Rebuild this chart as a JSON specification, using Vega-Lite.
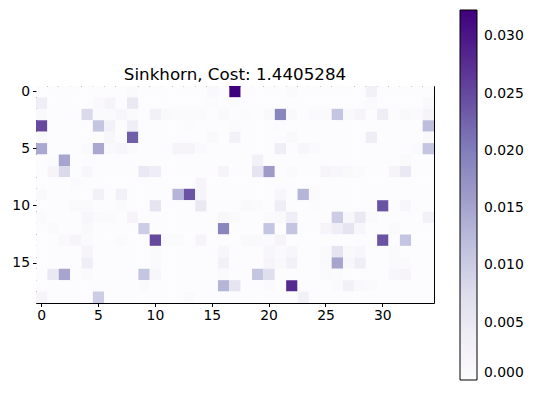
{
"$schema": "https://vega.github.io/schema/vega-lite/v6.json",
"width": 398, "height": 217,
"autosize": "none",
"padding": {"left": 36, "top": 86, "right": 102, "bottom": 95},
"title": {"text": "Sinkhorn, Cost: 1.4405284", "fontSize": 16.7, "fontWeight": "normal", "font": "DejaVu Sans", "color": "black", "offset": 7, "dy": 81},
"datasets": {"m": [
{"r":0,"c":0,"v":0},{"r":0,"c":1,"v":0},{"r":0,"c":2,"v":0},{"r":0,"c":3,"v":0},{"r":0,"c":4,"v":0},{"r":0,"c":5,"v":0},{"r":0,"c":6,"v":0},{"r":0,"c":7,"v":0},{"r":0,"c":8,"v":0.0005},{"r":0,"c":9,"v":0},{"r":0,"c":10,"v":0},{"r":0,"c":11,"v":0},{"r":0,"c":12,"v":0},{"r":0,"c":13,"v":0},{"r":0,"c":14,"v":0},{"r":0,"c":15,"v":0.001},{"r":0,"c":16,"v":0},{"r":0,"c":17,"v":0.0323},{"r":0,"c":18,"v":0},{"r":0,"c":19,"v":0},{"r":0,"c":20,"v":0},{"r":0,"c":21,"v":0},{"r":0,"c":22,"v":0.0005},{"r":0,"c":23,"v":0},{"r":0,"c":24,"v":0},{"r":0,"c":25,"v":0},{"r":0,"c":26,"v":0},{"r":0,"c":27,"v":0},{"r":0,"c":28,"v":0},{"r":0,"c":29,"v":0.003},{"r":0,"c":30,"v":0},{"r":0,"c":31,"v":0},{"r":0,"c":32,"v":0},{"r":0,"c":33,"v":0},{"r":0,"c":34,"v":0},
{"r":1,"c":0,"v":0.004},{"r":1,"c":1,"v":0},{"r":1,"c":2,"v":0},{"r":1,"c":3,"v":0},{"r":1,"c":4,"v":0},{"r":1,"c":5,"v":0.001},{"r":1,"c":6,"v":0.002},{"r":1,"c":7,"v":0},{"r":1,"c":8,"v":0.005},{"r":1,"c":9,"v":0},{"r":1,"c":10,"v":0},{"r":1,"c":11,"v":0},{"r":1,"c":12,"v":0},{"r":1,"c":13,"v":0},{"r":1,"c":14,"v":0},{"r":1,"c":15,"v":0.0004},{"r":1,"c":16,"v":0},{"r":1,"c":17,"v":0.0004},{"r":1,"c":18,"v":0},{"r":1,"c":19,"v":0},{"r":1,"c":20,"v":0},{"r":1,"c":21,"v":0},{"r":1,"c":22,"v":0},{"r":1,"c":23,"v":0},{"r":1,"c":24,"v":0},{"r":1,"c":25,"v":0},{"r":1,"c":26,"v":0},{"r":1,"c":27,"v":0},{"r":1,"c":28,"v":0},{"r":1,"c":29,"v":0.0005},{"r":1,"c":30,"v":0},{"r":1,"c":31,"v":0},{"r":1,"c":32,"v":0},{"r":1,"c":33,"v":0},{"r":1,"c":34,"v":0.0008},
{"r":2,"c":0,"v":0.0008},{"r":2,"c":1,"v":0},{"r":2,"c":2,"v":0},{"r":2,"c":3,"v":0},{"r":2,"c":4,"v":0.008},{"r":2,"c":5,"v":0.0005},{"r":2,"c":6,"v":0.0006},{"r":2,"c":7,"v":0.0015},{"r":2,"c":8,"v":0.0006},{"r":2,"c":9,"v":0},{"r":2,"c":10,"v":0.003},{"r":2,"c":11,"v":0.001},{"r":2,"c":12,"v":0.0007},{"r":2,"c":13,"v":0.0005},{"r":2,"c":14,"v":0.0007},{"r":2,"c":15,"v":0},{"r":2,"c":16,"v":0.0008},{"r":2,"c":17,"v":0},{"r":2,"c":18,"v":0.0004},{"r":2,"c":19,"v":0},{"r":2,"c":20,"v":0.001},{"r":2,"c":21,"v":0.019},{"r":2,"c":22,"v":0.001},{"r":2,"c":23,"v":0},{"r":2,"c":24,"v":0.0005},{"r":2,"c":25,"v":0.0005},{"r":2,"c":26,"v":0.011},{"r":2,"c":27,"v":0.0008},{"r":2,"c":28,"v":0.002},{"r":2,"c":29,"v":0},{"r":2,"c":30,"v":0.004},{"r":2,"c":31,"v":0},{"r":2,"c":32,"v":0.001},{"r":2,"c":33,"v":0.0006},{"r":2,"c":34,"v":0.002},
{"r":3,"c":0,"v":0.025},{"r":3,"c":1,"v":0},{"r":3,"c":2,"v":0},{"r":3,"c":3,"v":0},{"r":3,"c":4,"v":0},{"r":3,"c":5,"v":0.011},{"r":3,"c":6,"v":0.003},{"r":3,"c":7,"v":0},{"r":3,"c":8,"v":0.004},{"r":3,"c":9,"v":0},{"r":3,"c":10,"v":0},{"r":3,"c":11,"v":0},{"r":3,"c":12,"v":0},{"r":3,"c":13,"v":0.0004},{"r":3,"c":14,"v":0},{"r":3,"c":15,"v":0},{"r":3,"c":16,"v":0},{"r":3,"c":17,"v":0.0004},{"r":3,"c":18,"v":0},{"r":3,"c":19,"v":0},{"r":3,"c":20,"v":0},{"r":3,"c":21,"v":0.0004},{"r":3,"c":22,"v":0},{"r":3,"c":23,"v":0},{"r":3,"c":24,"v":0},{"r":3,"c":25,"v":0},{"r":3,"c":26,"v":0},{"r":3,"c":27,"v":0},{"r":3,"c":28,"v":0},{"r":3,"c":29,"v":0},{"r":3,"c":30,"v":0},{"r":3,"c":31,"v":0},{"r":3,"c":32,"v":0},{"r":3,"c":33,"v":0},{"r":3,"c":34,"v":0.012},
{"r":4,"c":0,"v":0.0008},{"r":4,"c":1,"v":0},{"r":4,"c":2,"v":0},{"r":4,"c":3,"v":0},{"r":4,"c":4,"v":0},{"r":4,"c":5,"v":0},{"r":4,"c":6,"v":0.0015},{"r":4,"c":7,"v":0},{"r":4,"c":8,"v":0.023},{"r":4,"c":9,"v":0},{"r":4,"c":10,"v":0},{"r":4,"c":11,"v":0},{"r":4,"c":12,"v":0},{"r":4,"c":13,"v":0},{"r":4,"c":14,"v":0},{"r":4,"c":15,"v":0.001},{"r":4,"c":16,"v":0},{"r":4,"c":17,"v":0.003},{"r":4,"c":18,"v":0},{"r":4,"c":19,"v":0},{"r":4,"c":20,"v":0},{"r":4,"c":21,"v":0},{"r":4,"c":22,"v":0.001},{"r":4,"c":23,"v":0},{"r":4,"c":24,"v":0},{"r":4,"c":25,"v":0},{"r":4,"c":26,"v":0},{"r":4,"c":27,"v":0},{"r":4,"c":28,"v":0},{"r":4,"c":29,"v":0.004},{"r":4,"c":30,"v":0},{"r":4,"c":31,"v":0},{"r":4,"c":32,"v":0},{"r":4,"c":33,"v":0},{"r":4,"c":34,"v":0.0008},
{"r":5,"c":0,"v":0.0145},{"r":5,"c":1,"v":0},{"r":5,"c":2,"v":0},{"r":5,"c":3,"v":0},{"r":5,"c":4,"v":0.0005},{"r":5,"c":5,"v":0.0145},{"r":5,"c":6,"v":0.001},{"r":5,"c":7,"v":0.0015},{"r":5,"c":8,"v":0.0005},{"r":5,"c":9,"v":0},{"r":5,"c":10,"v":0},{"r":5,"c":11,"v":0},{"r":5,"c":12,"v":0.002},{"r":5,"c":13,"v":0.002},{"r":5,"c":14,"v":0.0005},{"r":5,"c":15,"v":0},{"r":5,"c":16,"v":0},{"r":5,"c":17,"v":0},{"r":5,"c":18,"v":0},{"r":5,"c":19,"v":0},{"r":5,"c":20,"v":0},{"r":5,"c":21,"v":0.004},{"r":5,"c":22,"v":0},{"r":5,"c":23,"v":0.0015},{"r":5,"c":24,"v":0.0005},{"r":5,"c":25,"v":0},{"r":5,"c":26,"v":0},{"r":5,"c":27,"v":0},{"r":5,"c":28,"v":0},{"r":5,"c":29,"v":0},{"r":5,"c":30,"v":0},{"r":5,"c":31,"v":0},{"r":5,"c":32,"v":0},{"r":5,"c":33,"v":0.0006},{"r":5,"c":34,"v":0.011},
{"r":6,"c":0,"v":0},{"r":6,"c":1,"v":0.0004},{"r":6,"c":2,"v":0.015},{"r":6,"c":3,"v":0},{"r":6,"c":4,"v":0},{"r":6,"c":5,"v":0},{"r":6,"c":6,"v":0},{"r":6,"c":7,"v":0},{"r":6,"c":8,"v":0},{"r":6,"c":9,"v":0},{"r":6,"c":10,"v":0},{"r":6,"c":11,"v":0},{"r":6,"c":12,"v":0},{"r":6,"c":13,"v":0},{"r":6,"c":14,"v":0},{"r":6,"c":15,"v":0},{"r":6,"c":16,"v":0},{"r":6,"c":17,"v":0},{"r":6,"c":18,"v":0},{"r":6,"c":19,"v":0.003},{"r":6,"c":20,"v":0},{"r":6,"c":21,"v":0},{"r":6,"c":22,"v":0},{"r":6,"c":23,"v":0},{"r":6,"c":24,"v":0},{"r":6,"c":25,"v":0},{"r":6,"c":26,"v":0},{"r":6,"c":27,"v":0},{"r":6,"c":28,"v":0},{"r":6,"c":29,"v":0},{"r":6,"c":30,"v":0},{"r":6,"c":31,"v":0},{"r":6,"c":32,"v":0.0005},{"r":6,"c":33,"v":0},{"r":6,"c":34,"v":0},
{"r":7,"c":0,"v":0},{"r":7,"c":1,"v":0.002},{"r":7,"c":2,"v":0.008},{"r":7,"c":3,"v":0},{"r":7,"c":4,"v":0.0015},{"r":7,"c":5,"v":0},{"r":7,"c":6,"v":0},{"r":7,"c":7,"v":0},{"r":7,"c":8,"v":0},{"r":7,"c":9,"v":0.005},{"r":7,"c":10,"v":0.004},{"r":7,"c":11,"v":0},{"r":7,"c":12,"v":0},{"r":7,"c":13,"v":0},{"r":7,"c":14,"v":0},{"r":7,"c":15,"v":0},{"r":7,"c":16,"v":0.002},{"r":7,"c":17,"v":0},{"r":7,"c":18,"v":0},{"r":7,"c":19,"v":0.006},{"r":7,"c":20,"v":0.016},{"r":7,"c":21,"v":0},{"r":7,"c":22,"v":0.0006},{"r":7,"c":23,"v":0},{"r":7,"c":24,"v":0},{"r":7,"c":25,"v":0.002},{"r":7,"c":26,"v":0.0015},{"r":7,"c":27,"v":0.0008},{"r":7,"c":28,"v":0.0005},{"r":7,"c":29,"v":0},{"r":7,"c":30,"v":0},{"r":7,"c":31,"v":0.002},{"r":7,"c":32,"v":0.005},{"r":7,"c":33,"v":0},{"r":7,"c":34,"v":0},
{"r":8,"c":0,"v":0},{"r":8,"c":1,"v":0},{"r":8,"c":2,"v":0},{"r":8,"c":3,"v":0.0005},{"r":8,"c":4,"v":0},{"r":8,"c":5,"v":0},{"r":8,"c":6,"v":0},{"r":8,"c":7,"v":0},{"r":8,"c":8,"v":0},{"r":8,"c":9,"v":0},{"r":8,"c":10,"v":0},{"r":8,"c":11,"v":0},{"r":8,"c":12,"v":0},{"r":8,"c":13,"v":0},{"r":8,"c":14,"v":0.002},{"r":8,"c":15,"v":0},{"r":8,"c":16,"v":0},{"r":8,"c":17,"v":0},{"r":8,"c":18,"v":0},{"r":8,"c":19,"v":0},{"r":8,"c":20,"v":0},{"r":8,"c":21,"v":0},{"r":8,"c":22,"v":0},{"r":8,"c":23,"v":0},{"r":8,"c":24,"v":0},{"r":8,"c":25,"v":0},{"r":8,"c":26,"v":0},{"r":8,"c":27,"v":0},{"r":8,"c":28,"v":0},{"r":8,"c":29,"v":0},{"r":8,"c":30,"v":0},{"r":8,"c":31,"v":0},{"r":8,"c":32,"v":0},{"r":8,"c":33,"v":0},{"r":8,"c":34,"v":0},
{"r":9,"c":0,"v":0.0008},{"r":9,"c":1,"v":0},{"r":9,"c":2,"v":0},{"r":9,"c":3,"v":0},{"r":9,"c":4,"v":0},{"r":9,"c":5,"v":0.003},{"r":9,"c":6,"v":0},{"r":9,"c":7,"v":0.003},{"r":9,"c":8,"v":0},{"r":9,"c":9,"v":0},{"r":9,"c":10,"v":0},{"r":9,"c":11,"v":0},{"r":9,"c":12,"v":0.013},{"r":9,"c":13,"v":0.024},{"r":9,"c":14,"v":0.002},{"r":9,"c":15,"v":0},{"r":9,"c":16,"v":0},{"r":9,"c":17,"v":0},{"r":9,"c":18,"v":0},{"r":9,"c":19,"v":0},{"r":9,"c":20,"v":0},{"r":9,"c":21,"v":0.0015},{"r":9,"c":22,"v":0},{"r":9,"c":23,"v":0.013},{"r":9,"c":24,"v":0.0005},{"r":9,"c":25,"v":0},{"r":9,"c":26,"v":0},{"r":9,"c":27,"v":0},{"r":9,"c":28,"v":0},{"r":9,"c":29,"v":0},{"r":9,"c":30,"v":0},{"r":9,"c":31,"v":0},{"r":9,"c":32,"v":0},{"r":9,"c":33,"v":0},{"r":9,"c":34,"v":0},
{"r":10,"c":0,"v":0},{"r":10,"c":1,"v":0},{"r":10,"c":2,"v":0},{"r":10,"c":3,"v":0.001},{"r":10,"c":4,"v":0.0005},{"r":10,"c":5,"v":0},{"r":10,"c":6,"v":0},{"r":10,"c":7,"v":0.0006},{"r":10,"c":8,"v":0},{"r":10,"c":9,"v":0},{"r":10,"c":10,"v":0.006},{"r":10,"c":11,"v":0},{"r":10,"c":12,"v":0},{"r":10,"c":13,"v":0},{"r":10,"c":14,"v":0.005},{"r":10,"c":15,"v":0},{"r":10,"c":16,"v":0},{"r":10,"c":17,"v":0},{"r":10,"c":18,"v":0.001},{"r":10,"c":19,"v":0.0005},{"r":10,"c":20,"v":0},{"r":10,"c":21,"v":0.004},{"r":10,"c":22,"v":0},{"r":10,"c":23,"v":0},{"r":10,"c":24,"v":0.0004},{"r":10,"c":25,"v":0},{"r":10,"c":26,"v":0},{"r":10,"c":27,"v":0},{"r":10,"c":28,"v":0},{"r":10,"c":29,"v":0},{"r":10,"c":30,"v":0.024},{"r":10,"c":31,"v":0},{"r":10,"c":32,"v":0.0015},{"r":10,"c":33,"v":0},{"r":10,"c":34,"v":0},
{"r":11,"c":0,"v":0.0007},{"r":11,"c":1,"v":0},{"r":11,"c":2,"v":0},{"r":11,"c":3,"v":0},{"r":11,"c":4,"v":0.0015},{"r":11,"c":5,"v":0.0005},{"r":11,"c":6,"v":0.0005},{"r":11,"c":7,"v":0},{"r":11,"c":8,"v":0.002},{"r":11,"c":9,"v":0},{"r":11,"c":10,"v":0},{"r":11,"c":11,"v":0},{"r":11,"c":12,"v":0},{"r":11,"c":13,"v":0},{"r":11,"c":14,"v":0},{"r":11,"c":15,"v":0},{"r":11,"c":16,"v":0.0015},{"r":11,"c":17,"v":0.0006},{"r":11,"c":18,"v":0},{"r":11,"c":19,"v":0},{"r":11,"c":20,"v":0.0006},{"r":11,"c":21,"v":0.001},{"r":11,"c":22,"v":0.004},{"r":11,"c":23,"v":0},{"r":11,"c":24,"v":0},{"r":11,"c":25,"v":0},{"r":11,"c":26,"v":0.010},{"r":11,"c":27,"v":0.0015},{"r":11,"c":28,"v":0.005},{"r":11,"c":29,"v":0.0005},{"r":11,"c":30,"v":0},{"r":11,"c":31,"v":0},{"r":11,"c":32,"v":0},{"r":11,"c":33,"v":0},{"r":11,"c":34,"v":0.003},
{"r":12,"c":0,"v":0},{"r":12,"c":1,"v":0.0005},{"r":12,"c":2,"v":0},{"r":12,"c":3,"v":0},{"r":12,"c":4,"v":0.001},{"r":12,"c":5,"v":0},{"r":12,"c":6,"v":0},{"r":12,"c":7,"v":0},{"r":12,"c":8,"v":0},{"r":12,"c":9,"v":0.010},{"r":12,"c":10,"v":0},{"r":12,"c":11,"v":0},{"r":12,"c":12,"v":0},{"r":12,"c":13,"v":0},{"r":12,"c":14,"v":0},{"r":12,"c":15,"v":0},{"r":12,"c":16,"v":0.019},{"r":12,"c":17,"v":0},{"r":12,"c":18,"v":0},{"r":12,"c":19,"v":0},{"r":12,"c":20,"v":0.011},{"r":12,"c":21,"v":0},{"r":12,"c":22,"v":0.011},{"r":12,"c":23,"v":0},{"r":12,"c":24,"v":0},{"r":12,"c":25,"v":0.002},{"r":12,"c":26,"v":0.004},{"r":12,"c":27,"v":0.006},{"r":12,"c":28,"v":0.0015},{"r":12,"c":29,"v":0},{"r":12,"c":30,"v":0},{"r":12,"c":31,"v":0.0005},{"r":12,"c":32,"v":0},{"r":12,"c":33,"v":0},{"r":12,"c":34,"v":0},
{"r":13,"c":0,"v":0},{"r":13,"c":1,"v":0},{"r":13,"c":2,"v":0.001},{"r":13,"c":3,"v":0.002},{"r":13,"c":4,"v":0.0007},{"r":13,"c":5,"v":0},{"r":13,"c":6,"v":0},{"r":13,"c":7,"v":0.0005},{"r":13,"c":8,"v":0},{"r":13,"c":9,"v":0},{"r":13,"c":10,"v":0.025},{"r":13,"c":11,"v":0.0005},{"r":13,"c":12,"v":0.0005},{"r":13,"c":13,"v":0},{"r":13,"c":14,"v":0.002},{"r":13,"c":15,"v":0},{"r":13,"c":16,"v":0},{"r":13,"c":17,"v":0},{"r":13,"c":18,"v":0.001},{"r":13,"c":19,"v":0.001},{"r":13,"c":20,"v":0.0006},{"r":13,"c":21,"v":0.002},{"r":13,"c":22,"v":0},{"r":13,"c":23,"v":0},{"r":13,"c":24,"v":0},{"r":13,"c":25,"v":0},{"r":13,"c":26,"v":0},{"r":13,"c":27,"v":0},{"r":13,"c":28,"v":0},{"r":13,"c":29,"v":0},{"r":13,"c":30,"v":0.024},{"r":13,"c":31,"v":0},{"r":13,"c":32,"v":0.011},{"r":13,"c":33,"v":0},{"r":13,"c":34,"v":0},
{"r":14,"c":0,"v":0},{"r":14,"c":1,"v":0},{"r":14,"c":2,"v":0},{"r":14,"c":3,"v":0},{"r":14,"c":4,"v":0.002},{"r":14,"c":5,"v":0},{"r":14,"c":6,"v":0},{"r":14,"c":7,"v":0},{"r":14,"c":8,"v":0},{"r":14,"c":9,"v":0},{"r":14,"c":10,"v":0.0006},{"r":14,"c":11,"v":0},{"r":14,"c":12,"v":0},{"r":14,"c":13,"v":0},{"r":14,"c":14,"v":0},{"r":14,"c":15,"v":0},{"r":14,"c":16,"v":0.0015},{"r":14,"c":17,"v":0},{"r":14,"c":18,"v":0},{"r":14,"c":19,"v":0},{"r":14,"c":20,"v":0.0015},{"r":14,"c":21,"v":0.0006},{"r":14,"c":22,"v":0.0015},{"r":14,"c":23,"v":0},{"r":14,"c":24,"v":0},{"r":14,"c":25,"v":0.0005},{"r":14,"c":26,"v":0.006},{"r":14,"c":27,"v":0.001},{"r":14,"c":28,"v":0.0015},{"r":14,"c":29,"v":0},{"r":14,"c":30,"v":0},{"r":14,"c":31,"v":0.0005},{"r":14,"c":32,"v":0},{"r":14,"c":33,"v":0},{"r":14,"c":34,"v":0},
{"r":15,"c":0,"v":0},{"r":15,"c":1,"v":0},{"r":15,"c":2,"v":0},{"r":15,"c":3,"v":0},{"r":15,"c":4,"v":0.004},{"r":15,"c":5,"v":0},{"r":15,"c":6,"v":0},{"r":15,"c":7,"v":0},{"r":15,"c":8,"v":0},{"r":15,"c":9,"v":0},{"r":15,"c":10,"v":0.0007},{"r":15,"c":11,"v":0},{"r":15,"c":12,"v":0},{"r":15,"c":13,"v":0},{"r":15,"c":14,"v":0},{"r":15,"c":15,"v":0},{"r":15,"c":16,"v":0.003},{"r":15,"c":17,"v":0},{"r":15,"c":18,"v":0},{"r":15,"c":19,"v":0},{"r":15,"c":20,"v":0.002},{"r":15,"c":21,"v":0.001},{"r":15,"c":22,"v":0.003},{"r":15,"c":23,"v":0},{"r":15,"c":24,"v":0},{"r":15,"c":25,"v":0.001},{"r":15,"c":26,"v":0.015},{"r":15,"c":27,"v":0.0015},{"r":15,"c":28,"v":0.004},{"r":15,"c":29,"v":0},{"r":15,"c":30,"v":0},{"r":15,"c":31,"v":0.0005},{"r":15,"c":32,"v":0.0005},{"r":15,"c":33,"v":0},{"r":15,"c":34,"v":0},
{"r":16,"c":0,"v":0},{"r":16,"c":1,"v":0.005},{"r":16,"c":2,"v":0.015},{"r":16,"c":3,"v":0},{"r":16,"c":4,"v":0.0005},{"r":16,"c":5,"v":0},{"r":16,"c":6,"v":0},{"r":16,"c":7,"v":0},{"r":16,"c":8,"v":0},{"r":16,"c":9,"v":0.011},{"r":16,"c":10,"v":0.0015},{"r":16,"c":11,"v":0},{"r":16,"c":12,"v":0},{"r":16,"c":13,"v":0},{"r":16,"c":14,"v":0},{"r":16,"c":15,"v":0},{"r":16,"c":16,"v":0.0006},{"r":16,"c":17,"v":0},{"r":16,"c":18,"v":0},{"r":16,"c":19,"v":0.011},{"r":16,"c":20,"v":0.007},{"r":16,"c":21,"v":0},{"r":16,"c":22,"v":0},{"r":16,"c":23,"v":0},{"r":16,"c":24,"v":0},{"r":16,"c":25,"v":0.001},{"r":16,"c":26,"v":0.0005},{"r":16,"c":27,"v":0},{"r":16,"c":28,"v":0},{"r":16,"c":29,"v":0},{"r":16,"c":30,"v":0},{"r":16,"c":31,"v":0.0015},{"r":16,"c":32,"v":0.002},{"r":16,"c":33,"v":0},{"r":16,"c":34,"v":0},
{"r":17,"c":0,"v":0},{"r":17,"c":1,"v":0},{"r":17,"c":2,"v":0},{"r":17,"c":3,"v":0},{"r":17,"c":4,"v":0},{"r":17,"c":5,"v":0},{"r":17,"c":6,"v":0},{"r":17,"c":7,"v":0},{"r":17,"c":8,"v":0},{"r":17,"c":9,"v":0.0006},{"r":17,"c":10,"v":0},{"r":17,"c":11,"v":0},{"r":17,"c":12,"v":0},{"r":17,"c":13,"v":0},{"r":17,"c":14,"v":0},{"r":17,"c":15,"v":0},{"r":17,"c":16,"v":0.013},{"r":17,"c":17,"v":0.006},{"r":17,"c":18,"v":0},{"r":17,"c":19,"v":0},{"r":17,"c":20,"v":0.0006},{"r":17,"c":21,"v":0},{"r":17,"c":22,"v":0.028},{"r":17,"c":23,"v":0},{"r":17,"c":24,"v":0},{"r":17,"c":25,"v":0},{"r":17,"c":26,"v":0.0006},{"r":17,"c":27,"v":0.003},{"r":17,"c":28,"v":0.001},{"r":17,"c":29,"v":0.0005},{"r":17,"c":30,"v":0},{"r":17,"c":31,"v":0},{"r":17,"c":32,"v":0},{"r":17,"c":33,"v":0},{"r":17,"c":34,"v":0},
{"r":18,"c":0,"v":0.002},{"r":18,"c":1,"v":0},{"r":18,"c":2,"v":0},{"r":18,"c":3,"v":0},{"r":18,"c":4,"v":0},{"r":18,"c":5,"v":0.010},{"r":18,"c":6,"v":0},{"r":18,"c":7,"v":0},{"r":18,"c":8,"v":0},{"r":18,"c":9,"v":0},{"r":18,"c":10,"v":0},{"r":18,"c":11,"v":0},{"r":18,"c":12,"v":0},{"r":18,"c":13,"v":0.0005},{"r":18,"c":14,"v":0},{"r":18,"c":15,"v":0},{"r":18,"c":16,"v":0},{"r":18,"c":17,"v":0},{"r":18,"c":18,"v":0},{"r":18,"c":19,"v":0},{"r":18,"c":20,"v":0},{"r":18,"c":21,"v":0},{"r":18,"c":22,"v":0},{"r":18,"c":23,"v":0.003},{"r":18,"c":24,"v":0},{"r":18,"c":25,"v":0},{"r":18,"c":26,"v":0},{"r":18,"c":27,"v":0},{"r":18,"c":28,"v":0},{"r":18,"c":29,"v":0},{"r":18,"c":30,"v":0},{"r":18,"c":31,"v":0},{"r":18,"c":32,"v":0},{"r":18,"c":33,"v":0},{"r":18,"c":34,"v":0}
]},
"data": {"name": "m"},
"mark": {"type": "rect"},
"encoding": {
  "x": {"field": "c", "type": "ordinal", "scale": {"paddingInner": 0, "paddingOuter": 0},
        "axis": {"values": [0,5,10,15,20,25,30], "labelAngle": 0, "title": null, "tickColor": "black", "tickSize": 3.5, "labelFontSize": 13.9, "labelColor": "black", "domain": false, "labelPadding": 2, "labelFont": "DejaVu Sans"}},
  "y": {"field": "r", "type": "ordinal", "scale": {"paddingInner": 0, "paddingOuter": 0},
        "axis": {"values": [0,5,10,15], "title": null, "tickColor": "black", "tickSize": 3.5, "labelFontSize": 13.9, "labelColor": "black", "domain": false, "labelPadding": 3, "labelFont": "DejaVu Sans"}},
  "color": {"field": "v", "type": "quantitative",
        "scale": {"type": "linear", "domain": [0, 0.0040375, 0.008075, 0.0121125, 0.01615, 0.0201875, 0.024225, 0.0282625, 0.0323], "range": ["#fcfbfd", "#efedf5", "#dadaeb", "#bcbddc", "#9e9ac8", "#807dba", "#6a51a3", "#54278f", "#3f007d"], "interpolate": "rgb"},
        "legend": {"orient": "none", "legendX": 424, "legendY": -76, "direction": "vertical", "gradientLength": 370, "gradientThickness": 17, "gradientStrokeColor": "black", "gradientStrokeWidth": 1, "values": [0,0.005,0.01,0.015,0.02,0.025,0.03], "format": ".3f", "labelFontSize": 13.9, "labelColor": "black", "labelFont": "DejaVu Sans", "labelOverlap": false, "title": null, "labelOffset": 7, "padding": 0}}
},
"config": {"view": {"stroke": "black", "strokeWidth": 1}, "font": "DejaVu Sans"}
}
